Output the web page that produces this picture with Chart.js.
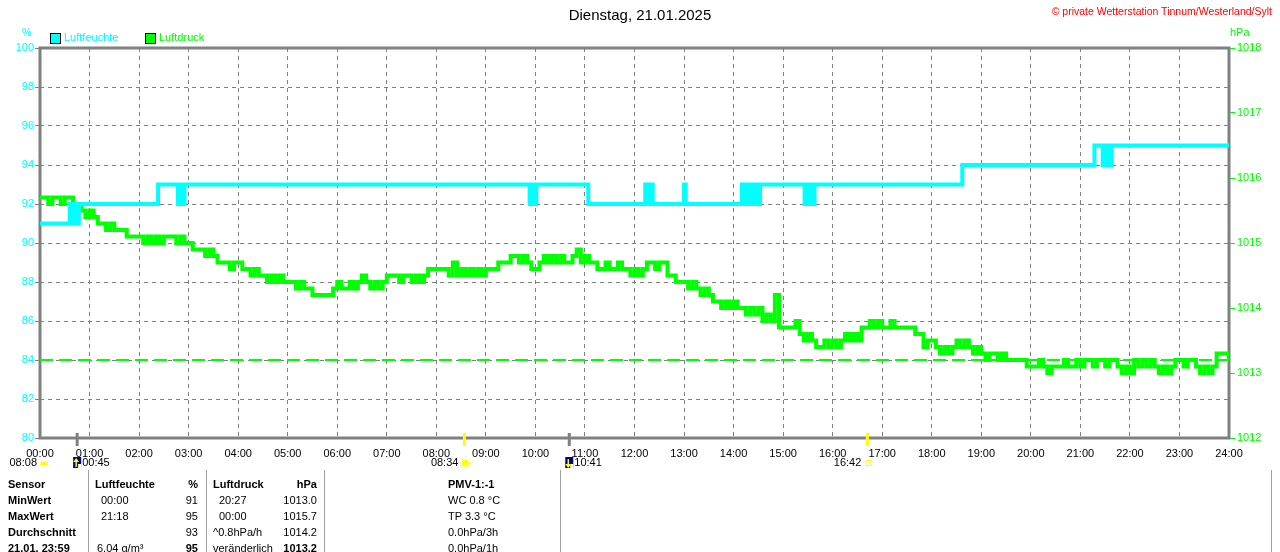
<!DOCTYPE html>
<html>
<head>
<meta charset="utf-8">
<script src="https://cdn.jsdelivr.net/npm/chart.js@4.4.1/dist/chart.umd.min.js"></script>
<style>
body{margin:0;background:#fff;font-family:"Liberation Sans",Arial,sans-serif;}
#wrap{position:relative;width:1280px;height:552px;overflow:hidden;background:#fff;}
#c{position:absolute;left:0;top:0;}
.t{position:absolute;font-size:11px;line-height:13px;white-space:nowrap;color:#000;}
.b{font-weight:bold;}
.sep{position:absolute;top:470px;height:82px;width:1px;background:#a0a0a0;}
.box{position:absolute;width:9px;height:9px;border:1px solid #000;}
</style>
</head>
<body>
<div id="wrap">
<canvas id="c" width="1280" height="552"></canvas>

<div class="t" style="left:0;width:1280px;top:6px;text-align:center;font-size:15px;line-height:18px;">Dienstag, 21.01.2025</div>
<div class="t" style="right:8px;top:5px;font-size:10.5px;color:#ff0000;">© private Wetterstation Tinnum/Westerland/Sylt</div>
<div class="t" style="left:22px;top:26px;color:#00ffff;">%</div>
<div class="t" style="left:1230px;top:26px;color:#00ff00;">hPa</div>
<div class="box" style="left:50px;top:33px;background:#00ffff;"></div>
<div class="t" style="left:64px;top:31px;color:#00ffff;">Luftfeuchte</div>
<div class="box" style="left:145px;top:33px;background:#00ff00;"></div>
<div class="t" style="left:159px;top:31px;color:#00ff00;">Luftdruck</div>

<div class="sep" style="left:88px"></div>
<div class="sep" style="left:206px"></div>
<div class="sep" style="left:324px"></div>
<div class="sep" style="left:560px"></div>
<div class="sep" style="left:1271px"></div>

<div class="t b" style="left:8px;top:478px">Sensor</div>
<div class="t b" style="left:8px;top:494px">MinWert</div>
<div class="t b" style="left:8px;top:510px">MaxWert</div>
<div class="t b" style="left:8px;top:526px">Durchschnitt</div>
<div class="t b" style="left:8px;top:542px">21.01. 23:59</div>

<div class="t b" style="left:95px;top:478px">Luftfeuchte</div>
<div class="t" style="left:101px;top:494px">00:00</div>
<div class="t" style="left:101px;top:510px">21:18</div>
<div class="t" style="left:97px;top:542px">6.04 g/m³</div>

<div class="t b" style="right:1082px;top:478px">%</div>
<div class="t" style="right:1082px;top:494px">91</div>
<div class="t" style="right:1082px;top:510px">95</div>
<div class="t" style="right:1082px;top:526px">93</div>
<div class="t b" style="right:1082px;top:542px">95</div>

<div class="t b" style="left:213px;top:478px">Luftdruck</div>
<div class="t" style="left:219px;top:494px">20:27</div>
<div class="t" style="left:219px;top:510px">00:00</div>
<div class="t" style="left:213px;top:526px">^0.8hPa/h</div>
<div class="t" style="left:213px;top:542px">veränderlich</div>

<div class="t b" style="right:963px;top:478px">hPa</div>
<div class="t" style="right:963px;top:494px">1013.0</div>
<div class="t" style="right:963px;top:510px">1015.7</div>
<div class="t" style="right:963px;top:526px">1014.2</div>
<div class="t b" style="right:963px;top:542px">1013.2</div>

<div class="t b" style="left:448px;top:478px">PMV-1:-1</div>
<div class="t" style="left:448px;top:494px">WC 0.8 °C</div>
<div class="t" style="left:448px;top:510px">TP 3.3 °C</div>
<div class="t" style="left:448px;top:526px">0.0hPa/3h</div>
<div class="t" style="left:448px;top:542px">0.0hPa/1h</div>
</div>

<script>
// Luftfeuchte (%): Zeitpunkte in Minuten seit 00:00 und Werte (Stufen)
const humTimes = [0, 36, 38, 41, 44, 47, 143, 167, 169, 172, 175, 593, 595, 599, 601, 664,
  733, 737, 740, 742, 780, 782, 850, 854, 857, 860, 864, 868, 872, 926, 930, 934, 938,
  1117, 1277, 1287, 1291, 1294, 1298, 1440];
const humValues = [91, 92, 91, 92, 91, 92, 93, 92, 93, 92, 93, 92, 93, 92, 93, 92,
  93, 92, 93, 92, 93, 92, 93, 92, 93, 92, 93, 92, 93, 92, 93, 92, 93,
  94, 95, 94, 95, 94, 95, 95];

// Luftdruck (hPa), alle 5 Minuten, eine Zeile je Stunde
const pressStep = 5;
const pressValues = [
  1015.7, 1015.7, 1015.6, 1015.7, 1015.7, 1015.6, 1015.7, 1015.7, 1015.6, 1015.6, 1015.5, 1015.4,
  1015.5, 1015.4, 1015.3, 1015.3, 1015.2, 1015.3, 1015.2, 1015.2, 1015.2, 1015.1, 1015.1, 1015.1,
  1015.1, 1015.0, 1015.1, 1015.0, 1015.1, 1015.0, 1015.1, 1015.1, 1015.1, 1015.0, 1015.1, 1015.0,
  1015.0, 1014.9, 1014.9, 1014.9, 1014.8, 1014.9, 1014.8, 1014.7, 1014.7, 1014.7, 1014.6, 1014.7,
  1014.7, 1014.6, 1014.6, 1014.5, 1014.6, 1014.5, 1014.5, 1014.4, 1014.5, 1014.4, 1014.5, 1014.4,
  1014.4, 1014.4, 1014.3, 1014.4, 1014.3, 1014.3, 1014.2, 1014.2, 1014.2, 1014.2, 1014.2, 1014.3,
  1014.4, 1014.3, 1014.3, 1014.4, 1014.3, 1014.4, 1014.5, 1014.4, 1014.3, 1014.4, 1014.3, 1014.4,
  1014.5, 1014.5, 1014.5, 1014.4, 1014.5, 1014.5, 1014.4, 1014.5, 1014.4, 1014.5, 1014.6, 1014.6,
  1014.6, 1014.6, 1014.6, 1014.5, 1014.7, 1014.5, 1014.6, 1014.5, 1014.6, 1014.5, 1014.6, 1014.5,
  1014.6, 1014.6, 1014.6, 1014.7, 1014.7, 1014.7, 1014.8, 1014.8, 1014.7, 1014.8, 1014.7, 1014.6,
  1014.6, 1014.7, 1014.8, 1014.7, 1014.8, 1014.7, 1014.8, 1014.7, 1014.7, 1014.8, 1014.9, 1014.7,
  1014.8, 1014.7, 1014.7, 1014.6, 1014.6, 1014.7, 1014.6, 1014.6, 1014.7, 1014.6, 1014.6, 1014.5,
  1014.6, 1014.5, 1014.6, 1014.7, 1014.7, 1014.6, 1014.7, 1014.7, 1014.5, 1014.5, 1014.4, 1014.4,
  1014.4, 1014.3, 1014.4, 1014.3, 1014.2, 1014.3, 1014.2, 1014.1, 1014.1, 1014.0, 1014.1, 1014.0,
  1014.1, 1014.0, 1014.0, 1013.9, 1014.0, 1013.9, 1014.0, 1013.8, 1013.9, 1013.8, 1014.2, 1013.7,
  1013.7, 1013.7, 1013.7, 1013.8, 1013.6, 1013.5, 1013.6, 1013.5, 1013.4, 1013.4, 1013.5, 1013.4,
  1013.5, 1013.4, 1013.5, 1013.6, 1013.5, 1013.6, 1013.5, 1013.7, 1013.7, 1013.8, 1013.7, 1013.8,
  1013.7, 1013.7, 1013.8, 1013.7, 1013.7, 1013.7, 1013.7, 1013.7, 1013.6, 1013.6, 1013.4, 1013.5,
  1013.5, 1013.4, 1013.3, 1013.4, 1013.3, 1013.4, 1013.5, 1013.4, 1013.5, 1013.4, 1013.3, 1013.4,
  1013.3, 1013.2, 1013.3, 1013.3, 1013.2, 1013.3, 1013.2, 1013.2, 1013.2, 1013.2, 1013.2, 1013.1,
  1013.1, 1013.1, 1013.2, 1013.1, 1013.0, 1013.1, 1013.1, 1013.1, 1013.2, 1013.1, 1013.1, 1013.2,
  1013.1, 1013.2, 1013.2, 1013.1, 1013.2, 1013.2, 1013.1, 1013.2, 1013.2, 1013.1, 1013.0, 1013.1,
  1013.0, 1013.2, 1013.1, 1013.2, 1013.1, 1013.2, 1013.1, 1013.0, 1013.1, 1013.0, 1013.1, 1013.2,
  1013.2, 1013.1, 1013.2, 1013.2, 1013.1, 1013.0, 1013.1, 1013.0, 1013.1, 1013.3, 1013.3, 1013.3,
  1013.2];
const currentPress = 1013.2;

// Sonnen- und Mondzeiten unter der Zeitachse
const eventTimes = [0, 45, 514, 641, 1002];
const eventLabels = ['08:08', '00:45', '08:34', '10:41', '16:42'];
const eventKinds = ['cloud', 'moonup', 'sun', 'moondown', 'set'];

const humTicks = [80, 100, 2];
const pressTicks = [1012, 1018, 1];

const toPts = (xs, ys) => xs.map((t, i) => ({x: t, y: ys[i]}));
const pressPts = pressValues.map((v, i) => ({x: i * pressStep, y: v}));
const hhmm = v => String(Math.round(v / 60)).padStart(2, '0') + ':00';

const frame = {
  id: 'frame',
  beforeDatasetsDraw(chart) {
    const {ctx, chartArea: a} = chart;
    ctx.save();
    ctx.strokeStyle = '#808080';
    ctx.lineWidth = 3;
    ctx.strokeRect(a.left, a.top, a.right - a.left, a.bottom - a.top);
    ctx.restore();
  }
};

const events = {
  id: 'events',
  afterDraw(chart) {
    const {ctx, chartArea: a, scales: {x}} = chart;
    ctx.save();
    ctx.font = '11px "Liberation Sans", Arial, sans-serif';
    ctx.textBaseline = 'middle';
    const ty = a.bottom + 25;
    eventTimes.forEach((t, i) => {
      const px = x.getPixelForValue(t);
      const kind = eventKinds[i];
      const isMoon = kind.startsWith('moon');
      if (kind !== 'cloud') {
        ctx.strokeStyle = isMoon ? '#808080' : '#ffff00';
        ctx.lineWidth = 3;
        ctx.beginPath();
        ctx.moveTo(px, a.bottom - 5);
        ctx.lineTo(px, a.bottom + 8);
        ctx.stroke();
      }
      if (isMoon) {
        ctx.fillStyle = '#000080';
        ctx.fillRect(px - 4, ty - 6, 8, 11);
        ctx.fillStyle = '#ffffff';
        ctx.fillRect(px + 1, ty + 1, 3, 4);
        ctx.strokeStyle = '#ffff00';
        ctx.lineWidth = 1.5;
        ctx.beginPath();
        ctx.moveTo(px - 1, ty - 4); ctx.lineTo(px - 1, ty + 4);
        ctx.stroke();
        ctx.fillStyle = '#ffff00';
        ctx.beginPath();
        if (kind === 'moonup') {
          ctx.moveTo(px - 4, ty - 1); ctx.lineTo(px + 2, ty - 1); ctx.lineTo(px - 1, ty - 5);
        } else {
          ctx.moveTo(px - 4, ty + 1); ctx.lineTo(px + 2, ty + 1); ctx.lineTo(px - 1, ty + 5);
        }
        ctx.fill();
        ctx.fillStyle = '#000';
        ctx.textAlign = 'left';
        ctx.fillText(eventLabels[i], px + 5, ty);
      } else {
        const cx = px + (kind === 'cloud' ? 4 : 1);
        ctx.fillStyle = '#ffff00';
        ctx.strokeStyle = '#ffff00';
        if (kind === 'sun') {
          ctx.beginPath(); ctx.arc(cx, ty, 3.5, 0, Math.PI * 2); ctx.fill();
          ctx.lineWidth = 1;
          for (let k = 0; k < 8; k++) {
            const ang = k * Math.PI / 4;
            ctx.beginPath();
            ctx.moveTo(cx + Math.cos(ang) * 4.5, ty + Math.sin(ang) * 4.5);
            ctx.lineTo(cx + Math.cos(ang) * 6.5, ty + Math.sin(ang) * 6.5);
            ctx.stroke();
          }
        } else if (kind === 'set') {
          ctx.lineWidth = 1;
          ctx.strokeRect(cx - 2.5, ty - 2.5, 5, 5);
        } else {
          ctx.beginPath(); ctx.ellipse(cx, ty + 2, 4, 3.5, 0, Math.PI, 0); ctx.fill();
        }
        ctx.fillStyle = '#000';
        ctx.textAlign = 'right';
        ctx.fillText(eventLabels[i], cx - 7, ty);
      }
    });
    ctx.restore();
  }
};

Chart.defaults.font.family = '"Liberation Sans", Arial, sans-serif';
Chart.defaults.font.size = 11;

const ctx = document.getElementById('c').getContext('2d');
const chart = new Chart(ctx, {
  type: 'line',
  data: {
    datasets: [{
      label: 'Luftfeuchte',
      data: toPts(humTimes, humValues),
      yAxisID: 'y',
      borderColor: '#00ffff',
      borderWidth: 4,
      stepped: true,
      pointRadius: 0
    }, {
      label: 'Luftdruck',
      data: pressPts,
      yAxisID: 'y2',
      borderColor: '#00ff00',
      borderWidth: 4,
      stepped: true,
      pointRadius: 0
    }, {
      label: 'aktuell',
      data: toPts([0, 1440], [currentPress, currentPress]),
      yAxisID: 'y2',
      borderColor: '#00ff00',
      borderWidth: 2,
      borderDash: [13, 6],
      pointRadius: 0
    }]
  },
  options: {
    responsive: false,
    animation: false,
    devicePixelRatio: 1,
    layout: {padding: {top: 48, bottom: 94, left: 0, right: 0}},
    plugins: {legend: {display: false}, title: {display: false}, tooltip: {enabled: false}},
    scales: {
      x: {
        type: 'linear',
        min: 0,
        max: 1440,
        afterFit: s => { s.height = 20; },
        afterBuildTicks: s => { s.ticks = []; for (let v = 0; v <= 1440; v += 60) s.ticks.push({value: v}); },
        ticks: {color: '#000', padding: 9, maxRotation: 0, autoSkip: false, callback: v => hhmm(v)},
        grid: {color: '#808080', lineWidth: 1, drawTicks: false},
        border: {display: false, dash: [4, 4]}
      },
      y: {
        position: 'left',
        min: humTicks[0],
        max: humTicks[1],
        afterFit: s => { s.width = 40; },
        ticks: {stepSize: humTicks[2], color: '#00ffff', padding: 1, callback: v => String(v)},
        grid: {color: '#808080', lineWidth: 1, tickLength: 5, tickColor: '#808080'},
        border: {display: false, dash: [4, 4]}
      },
      y2: {
        position: 'right',
        min: pressTicks[0],
        max: pressTicks[1],
        afterFit: s => { s.width = 51; },
        ticks: {stepSize: pressTicks[2], color: '#00ff00', padding: 2, callback: v => String(v)},
        grid: {drawOnChartArea: false, tickLength: 6, tickColor: '#00ff00', color: '#00ff00'},
        border: {display: false}
      }
    }
  },
  plugins: [frame, events]
});
</script>
</body>
</html>
